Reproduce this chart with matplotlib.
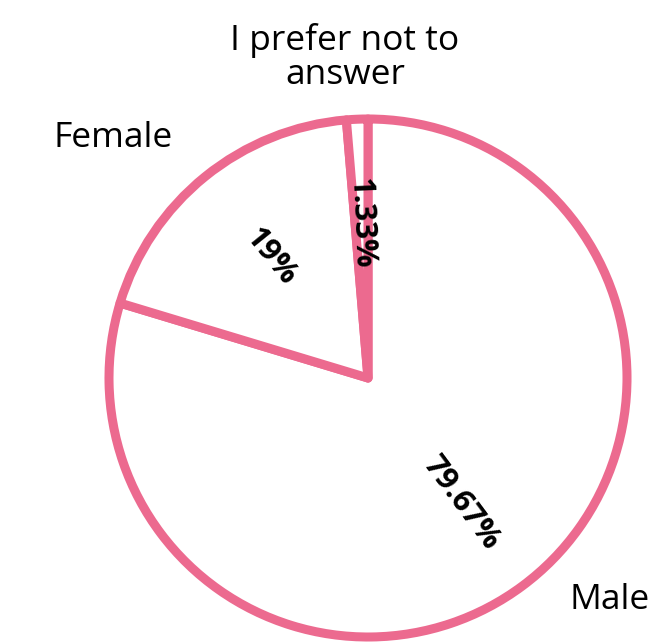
import numpy as np
import matplotlib
matplotlib.use('Agg')
import matplotlib.pyplot as plt

# data
categories = ['Male', 'Female', 'I prefer not to\nanswer']
shares = [79.67, 19.0, 1.33]
pct_labels = ['79.67%', '19%', '1.33%']

pink = '#ec6a8f'
plt.rcParams['font.family'] = ['Open Sans', 'DejaVu Sans']

fig = plt.figure(figsize=(6.57, 6.44), dpi=100)
ax = fig.add_axes([0, 0, 1, 1])

wedges, _ = ax.pie(shares, startangle=90, counterclock=False,
                   colors=['white'] * len(shares),
                   wedgeprops=dict(edgecolor=pink, linewidth=6.5,
                                   joinstyle='round'))

# pie radius 1 -> about 259 px, centre at (368, 378) px
scale = 259.0
ax.set_xlim(-368 / scale, (657 - 368) / scale)
ax.set_ylim(-(644 - 378) / scale, 378 / scale)
ax.set_aspect('equal')
ax.axis('off')

# percent labels, rotated along the radius of each wedge
for w, txt in zip(wedges, pct_labels):
    mid = 0.5 * (w.theta1 + w.theta2)
    rad = np.deg2rad(mid)
    rot = mid if -90 <= mid <= 90 else mid - 180
    if rot > 90:
        rot -= 360
    ax.text(0.6 * np.cos(rad), 0.6 * np.sin(rad), txt, rotation=rot,
            rotation_mode='anchor', ha='center', va='center',
            fontsize=22.5, fontweight='bold', color='black')

# category labels outside the pie
label_pos = [(0.931, -0.857), (-0.985, 0.927), (-0.089, 1.236)]
for txt, (x, y) in zip(categories, label_pos):
    ax.text(x, y, txt, ha='center', va='center', fontsize=25.5,
            color='black', linespacing=1.0)

fig.savefig('out.png', dpi=100)
